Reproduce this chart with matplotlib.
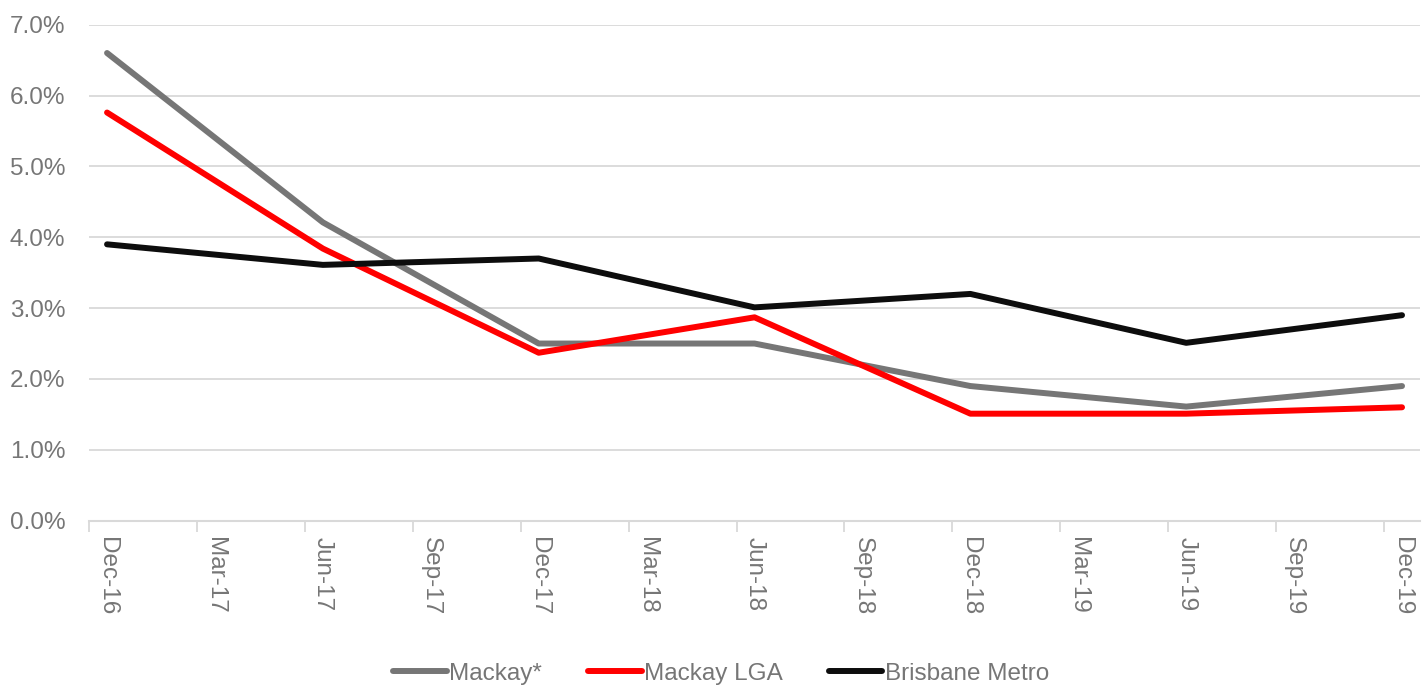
import numpy as np
import matplotlib
matplotlib.use('Agg')
import matplotlib.pyplot as plt

plt.rcParams['font.family'] = ['Liberation Sans', 'DejaVu Sans']

# quarterly axis labels
quarters = ['Dec-16', 'Mar-17', 'Jun-17', 'Sep-17', 'Dec-17', 'Mar-18', 'Jun-18',
            'Sep-18', 'Dec-18', 'Mar-19', 'Jun-19', 'Sep-19', 'Dec-19']
# series only reported half-yearly (Dec / Jun)
half_years = ['Dec-16', 'Jun-17', 'Dec-17', 'Jun-18', 'Dec-18', 'Jun-19', 'Dec-19']
mackay = [6.60, 4.21, 2.50, 2.50, 1.90, 1.61, 1.90]
mackay_lga = [5.76, 3.84, 2.37, 2.87, 1.51, 1.51, 1.60]
brisbane = [3.90, 3.61, 3.70, 3.01, 3.20, 2.51, 2.90]

# x in months from Dec-16, points sit mid-month like an Excel date axis
q_month = np.arange(len(quarters)) * 3
x_pts = np.array([q_month[quarters.index(h)] for h in half_years]) + 0.5

fig = plt.figure(figsize=(14.25, 6.89), dpi=100)
ax = fig.add_axes([0.0625, 0.2443, 0.934, 0.7199])

ax.plot(x_pts, mackay, color='#767676', lw=4.3, label='Mackay*', solid_capstyle='round')
ax.plot(x_pts, mackay_lga, color='#FF0000', lw=4.3, label='Mackay LGA', solid_capstyle='round')
ax.plot(x_pts, brisbane, color='#0D0D0D', lw=4.3, label='Brisbane Metro', solid_capstyle='round')

ax.set_xlim(0, 37)
ax.set_ylim(0, 7)
ax.set_yticks(np.arange(0, 8, 1))
ax.set_yticklabels([f'{v:.1f}%' for v in range(8)])
ax.grid(axis='y', color='#D9D9D9', lw=1.3)
ax.set_axisbelow(True)

ax.set_xticks(q_month)
ax.set_xticklabels([])
ax.set_xticks(q_month + 0.5, minor=True)
ax.set_xticklabels(quarters, minor=True, rotation=270)
ax.tick_params(axis='x', which='major', length=8, color='#D9D9D9', width=1.3)
ax.tick_params(axis='x', which='minor', length=0, pad=12, labelsize=17.5, labelcolor='#767676')
ax.tick_params(axis='y', length=0, pad=17, labelsize=17.5, labelcolor='#767676')

for s in ['top', 'right', 'left']:
    ax.spines[s].set_visible(False)
ax.spines['bottom'].set_color('#D9D9D9')
ax.spines['bottom'].set_linewidth(1.5)

leg = fig.legend(loc='center', bbox_to_anchor=(0.506, 0.022), ncol=3, frameon=False,
                 fontsize=17.5, handlelength=2.2, handletextpad=0.1, columnspacing=1.9)
for t in leg.get_texts():
    t.set_color('#767676')

fig.savefig('out.png', dpi=100)
